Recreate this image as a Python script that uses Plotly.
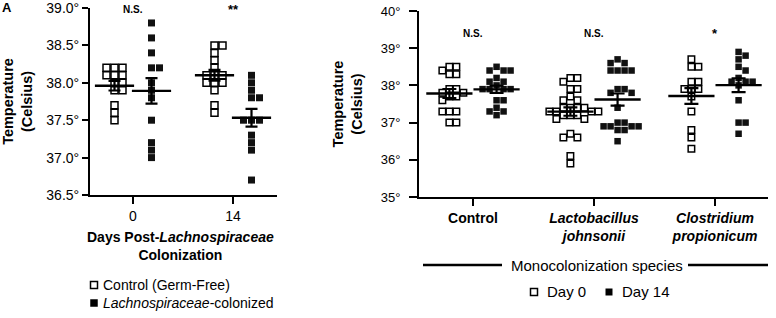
import numpy as np
import plotly.graph_objects as go

W, H = 776, 318
FONT = "Liberation Sans, Arial, Helvetica, sans-serif"

# ---------------- Panel A data ----------------
left_days = ["0", "14"]
left_control_day0 = [38.2, 38.2, 38.2, 38.1, 38.1, 38.1, 38.0, 38.0, 37.9, 37.9, 37.7, 37.6, 37.5]
left_colonized_day0 = [38.8, 38.6, 38.4, 38.2, 38.2, 38.0, 37.9, 37.8, 37.5, 37.2, 37.1, 37.0]
left_control_day14 = [38.5, 38.5, 38.4, 38.3, 38.2, 38.1, 38.1, 38.1, 38.0, 38.0, 38.0, 37.9, 37.7, 37.6]
left_colonized_day14 = [38.1, 38.0, 37.9, 37.8, 37.8, 37.5, 37.5, 37.5, 37.3, 37.2, 37.1, 36.7]
left_sig = ["N.S.", "**"]
left_yticks = [36.5, 37.0, 37.5, 38.0, 38.5, 39.0]

# ---------------- Panel B data ----------------
right_species = ["<b>Control</b>",
                 "<b><i>Lactobacillus</i><br><i>johnsonii</i></b>",
                 "<b><i>Clostridium</i><br><i>propionicum</i></b>"]
ctrl_day0 = [38.5, 38.5, 38.4, 38.3, 38.3, 37.9, 37.9, 37.8, 37.8, 37.7, 37.7, 37.6,
             37.3, 37.3, 37.3, 37.0, 37.0]
ctrl_day14 = [38.5, 38.4, 38.4, 38.4, 38.2, 38.1, 38.1, 38.0, 37.9, 37.9, 37.9, 37.9,
              37.6, 37.6, 37.4, 37.3, 37.3, 37.2]
lacto_day0 = [38.2, 38.2, 38.1, 37.9, 37.9, 37.7, 37.6, 37.6, 37.4, 37.4, 37.4, 37.4,
              37.3, 37.3, 37.3, 37.3, 37.2, 37.2, 37.2, 37.1, 37.1, 36.7, 36.6, 36.6,
              36.1, 35.9]
lacto_day14 = [38.7, 38.6, 38.6, 38.4, 38.4, 38.4, 38.4, 37.9, 37.9, 37.8, 37.8, 37.4,
               37.0, 37.0, 36.9, 36.9, 36.9, 36.9, 36.8, 36.8, 36.5]
clos_day0 = [38.7, 38.5, 38.5, 38.1, 38.1, 37.9, 37.9, 37.9, 37.7, 37.3, 36.8, 36.6, 36.3]
clos_day14 = [38.9, 38.8, 38.7, 38.5, 38.4, 38.2, 38.1, 38.1, 38.1, 38.0, 37.6, 37.0,
              37.0, 36.7]
right_sig = ["N.S.", "N.S.", "*"]
right_yticks = [35, 36, 37, 38, 39, 40]

# ---------------- geometry (pixels) ----------------
LX0, LX1, LY0, LY1 = 90, 277, 8, 195      # left plot area
RX0, RX1, RY0, RY1 = 419, 768, 11, 197    # right plot area
L_RANGE_X = [-0.43, 1.44]
L_RANGE_Y = [36.5, 39.0]
R_RANGE_X = [-0.446, 2.438]
R_RANGE_Y = [35, 40]


def px(x):
    return x / W


def py(y):
    return 1 - y / H


def swarm(values, ppu_x, ppu_y, size, gap, yfac):
    placed = []
    offs = []
    for v in values:
        cands = [0.0]
        for i in range(1, 30):
            cands += [i * gap, -i * gap]
        chosen = cands[-1]
        for c in cands:
            ok = True
            for (pc, pv) in placed:
                if abs(c - pc) < size * 0.95 and abs((v - pv) * ppu_y) < size * yfac:
                    ok = False
                    break
            if ok:
                chosen = c
                break
        placed.append((chosen, v))
        offs.append(chosen / ppu_x)
    return np.array(offs)


l_ppx = (LX1 - LX0) / (L_RANGE_X[1] - L_RANGE_X[0])
l_ppy = (LY1 - LY0) / (L_RANGE_Y[1] - L_RANGE_Y[0])
r_ppx = (RX1 - RX0) / (R_RANGE_X[1] - R_RANGE_X[0])
r_ppy = (RY1 - RY0) / (R_RANGE_Y[1] - R_RANGE_Y[0])

fig = go.Figure()

OPEN = dict(symbol="square-open", color="black", line=dict(color="black", width=1.5))
FILLED = dict(symbol="square", color="#111111", line=dict(width=0))


def add_group(vals, center, open_, xa, ya, ppx, ppy, size, gap, yfac, mean_w, cap_w):
    vals = np.array(vals, dtype=float)
    xs = center + swarm(vals, ppx, ppy, size, gap, yfac)
    mk = dict(OPEN) if open_ else dict(FILLED)
    mk["size"] = size
    fig.add_trace(go.Scatter(x=xs, y=vals, mode="markers", marker=mk,
                             xaxis=xa, yaxis=ya, showlegend=False, hoverinfo="y"))
    m = vals.mean()
    sem = vals.std(ddof=1) / np.sqrt(len(vals))
    fig.add_trace(go.Scatter(
        x=[center], y=[m], mode="markers",
        marker=dict(symbol="line-ew", size=mean_w, color="black",
                    line=dict(color="black", width=2.4)),
        error_y=dict(type="data", array=[sem], visible=True, color="black",
                     thickness=2.2, width=cap_w),
        xaxis=xa, yaxis=ya, showlegend=False, hoverinfo="skip"))


# left panel
L_OFF = 0.185
left_groups = [(left_control_day0, 0, True), (left_colonized_day0, 0, False),
               (left_control_day14, 1, True), (left_colonized_day14, 1, False)]
for vals, i, op in left_groups:
    add_group(vals, i + (-L_OFF if op else L_OFF), op, "x", "y",
              l_ppx, l_ppy, 7, 8, 0.95, 28, 6)

# right panel
R_OFF = 0.195
right_groups = [(ctrl_day0, 0, True), (ctrl_day14, 0, False),
                (lacto_day0, 1, True), (lacto_day14, 1, False),
                (clos_day0, 2, True), (clos_day14, 2, False)]
for vals, i, op in right_groups:
    add_group(vals, i + (-R_OFF if op else R_OFF), op, "x2", "y2",
              r_ppx, r_ppy, 6.5, 7, 0.6, 33, 7)

axis_common = dict(showline=True, linewidth=2, linecolor="black", ticks="outside",
                   tickwidth=2, tickcolor="black", showgrid=False, zeroline=False,
                   automargin=False, fixedrange=True, ticklabeloverflow="allow")

fig.update_layout(
    width=W, height=H,
    margin=dict(l=0, r=0, t=0, b=0),
    paper_bgcolor="white", plot_bgcolor="white",
    font=dict(family=FONT, color="black"),
    showlegend=False,
    xaxis=dict(domain=[px(LX0), px(LX1)], range=L_RANGE_X, anchor="y",
               tickvals=[0, 1], ticktext=left_days, ticklen=7,
               tickfont=dict(size=14), **axis_common),
    yaxis=dict(domain=[py(LY1), py(LY0)], range=L_RANGE_Y, anchor="x",
               tickvals=left_yticks, ticktext=[f"{v:.1f}°" for v in left_yticks],
               ticklen=6, tickfont=dict(size=14),
               title=dict(text="<b>Temperature<br>(Celsius)</b>", font=dict(size=14.5)),
               **axis_common),
    xaxis2=dict(domain=[px(RX0), px(RX1)], range=R_RANGE_X, anchor="y2",
                tickvals=[0, 1, 2], ticktext=right_species, ticklen=7,
                tickfont=dict(size=14), **axis_common),
    yaxis2=dict(domain=[py(RY1), py(RY0)], range=R_RANGE_Y, anchor="x2",
                tickvals=right_yticks, ticktext=[f"{v}°" for v in right_yticks],
                ticklen=8, ticklabelstandoff=6, tickfont=dict(size=13),
                title=dict(text="<b>Temperature<br>(Celsius)</b>", font=dict(size=14.5)),
                **axis_common),
)

ann = []
C = dict(xanchor="center", yanchor="middle", showarrow=False)
L = dict(xanchor="left", yanchor="middle", showarrow=False)
# significance labels
for i, s in enumerate(left_sig):
    ann.append(dict(x=i, y=py(10), xref="x", yref="paper", text=f"<b>{s}</b>",
                    font=dict(size=10 if s == "N.S." else 13), **C))
for i, s in enumerate(right_sig):
    ann.append(dict(x=i, y=py(34), xref="x2", yref="paper", text=f"<b>{s}</b>",
                    font=dict(size=10 if s == "N.S." else 13), **C))

# left x title
ann.append(dict(x=px(180), y=py(246), xref="paper", yref="paper",
                text="<b>Days Post-<i>Lachnospiraceae</i><br>Colonization</b>",
                font=dict(size=14), **C))

# left legend text
ann.append(dict(x=px(101), y=py(285), xref="paper", yref="paper",
                text="Control (Germ-Free)", font=dict(size=14), **L))
ann.append(dict(x=px(101), y=py(303), xref="paper", yref="paper",
                text="<i>Lachnospiraceae</i>-colonized", font=dict(size=14), **L))

# right bottom title + legend
ann.append(dict(x=px(597), y=py(265), xref="paper", yref="paper",
                text="Monocolonization species", font=dict(size=15), **C))
ann.append(dict(x=px(545), y=py(291), xref="paper", yref="paper",
                text="Day 0", font=dict(size=15), **L))
ann.append(dict(x=px(620), y=py(291), xref="paper", yref="paper",
                text="Day 14", font=dict(size=15), **L))

# panel letter
ann.append(dict(x=px(0), y=py(8), xref="paper", yref="paper",
                text="<b>A</b>", font=dict(size=13), **L))

fig.update_layout(annotations=ann)

shapes = []


def sq(cx, cy, s, filled):
    return dict(type="rect", xref="paper", yref="paper",
                x0=px(cx - s / 2), x1=px(cx + s / 2), y0=py(cy + s / 2), y1=py(cy - s / 2),
                line=dict(color="black", width=1.5 if not filled else 0),
                fillcolor="black" if filled else "white")


shapes.append(sq(94, 285, 7, False))
shapes.append(sq(94, 303, 7.5, True))
shapes.append(sq(534, 292, 7, False))
shapes.append(sq(609, 292, 7, True))
# monocolonization bracket lines
for x0, x1 in [(423, 502), (688, 768)]:
    shapes.append(dict(type="line", xref="paper", yref="paper",
                       x0=px(x0), x1=px(x1), y0=py(265), y1=py(265),
                       line=dict(color="black", width=2.5)))
fig.update_layout(shapes=shapes)

fig.write_html("out.html", config={"displayModeBar": False},
               post_script="document.body.style.margin='0';")
